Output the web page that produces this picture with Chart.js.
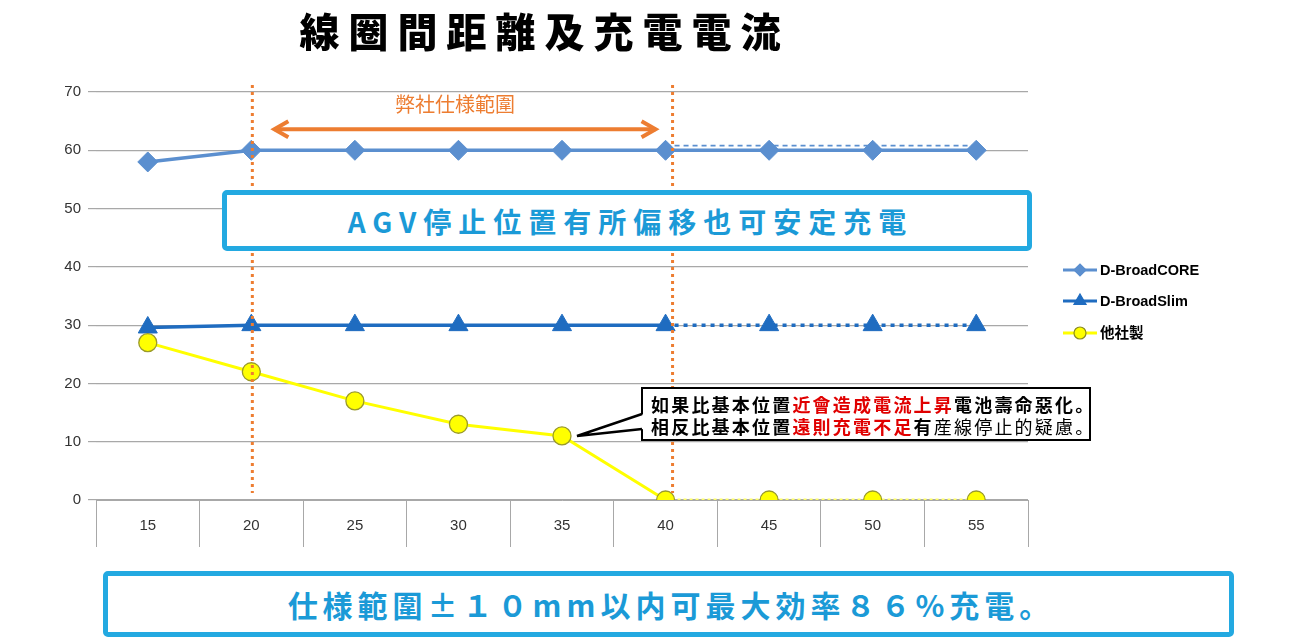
<!DOCTYPE html>
<html><head><meta charset="utf-8">
<script src="https://cdn.jsdelivr.net/npm/chart.js@4.4.1/dist/chart.umd.min.js"></script>
<style>
body{margin:0;background:#fff;width:1291px;height:641px;overflow:hidden;position:relative;font-family:"Noto Sans CJK JP","Noto Sans CJK TC",sans-serif;}
#c{position:absolute;left:0;top:0;}
.ov{position:absolute;box-sizing:border-box;}
#title{left:0;top:4px;width:1089px;text-align:center;font-size:40px;font-weight:900;letter-spacing:9px;color:#000;line-height:52px;}
.box{border:5px solid #23a9e1;border-radius:5px;background:#fff;color:#1b9ad7;font-weight:700;text-align:center;display:flex;align-items:center;justify-content:center;white-space:nowrap;}
#box1{left:222px;top:190px;width:810px;height:61px;font-size:28px;letter-spacing:7px;padding-left:7px;}
#box2{left:103px;top:571px;width:1131px;height:66px;font-size:30px;letter-spacing:5px;padding-left:5px;}
#callout{left:641px;top:387px;width:450px;height:54px;border:2px solid #000;background:#fff;font-size:18px;font-weight:700;letter-spacing:2.2px;line-height:22px;padding:4px 0 0 8px;color:#000;white-space:nowrap;}
#ptr{position:absolute;left:0;top:0;}
.r{color:#e00000}
.n{font-weight:400}
</style></head>
<body>
<canvas id="c" width="1291" height="641"></canvas>
<div class="ov" id="title">線圈間距離及充電電流</div>
<div class="ov box" id="box1">AGV停止位置有所偏移也可安定充電</div>
<div class="ov box" id="box2">仕様範圍±１０mm以内可最大効率８６%充電。</div>
<div class="ov" id="callout">如果比基本位置<span class="r">近會造成電流上昇</span>電池壽命惡化。<br>相反比基本位置<span class="r">遠則充電不足</span>有<span class="n">産線停止的疑慮。</span></div>
<svg id="ptr" width="1291" height="641"><polygon points="644,414 577,436 644,429" fill="#fff" stroke="none"/><polyline points="642,414 577,436 642,429" fill="none" stroke="#000" stroke-width="2.5"/></svg>
<script>
const categories = ['15','20','25','30','35','40','45','50','55'];
const coreValues  = [58, 60, 60, 60, 60, 60, 60, 60, 60];
const coreGuide   = [null, null, null, null, null, 60.8, 60.8, 60.8, 60.8];
const slimValues  = [29.6, 30, 30, 30, 30, 30, 30, 30, 30];
const otherValues = [27, 22, 17, 13, 11, 0, 0, 0, 0];
const seriesNames = ['D-BroadCORE', 'D-BroadSlim', '他社製'];
const specRange = ['20', '40'];
const specLabel = '弊社仕様範圍';
const yMin = 0, yMax = 70, yStep = 10;

const CORE = '#5b8fcf', SLIM = '#1f6cc0', OTHER = '#ffff00', ORANGE = '#ed7d31', GRID = '#a8a8a8';
const dashAfter = (idx, dash) => ctx => ctx.p0DataIndex >= idx ? dash : undefined;

const annot = {
  id: 'annot',
  afterDatasetsDraw(chart) {
    const {ctx, chartArea, scales: {x, y}} = chart;
    ctx.save();
    ctx.strokeStyle = ORANGE; ctx.lineWidth = 3; ctx.setLineDash([3, 4]);
    const xs = [x.getPixelForValue(categories.indexOf(specRange[0])) + 1,
                x.getPixelForValue(categories.indexOf(specRange[1])) + 7];
    xs.forEach(px => { ctx.beginPath(); ctx.moveTo(px, chartArea.top - 7); ctx.lineTo(px, chartArea.bottom - 7); ctx.stroke(); });
    ctx.setLineDash([]); ctx.lineWidth = 4;
    const ay = y.getPixelForValue(63.6);
    const a0 = xs[0] + 22, a1 = xs[1] - 17;
    ctx.beginPath(); ctx.moveTo(a0, ay); ctx.lineTo(a1, ay); ctx.stroke();
    ctx.beginPath(); ctx.moveTo(a0 + 14, ay - 8); ctx.lineTo(a0, ay); ctx.lineTo(a0 + 14, ay + 8); ctx.stroke();
    ctx.beginPath(); ctx.moveTo(a1 - 14, ay - 8); ctx.lineTo(a1, ay); ctx.lineTo(a1 - 14, ay + 8); ctx.stroke();
    ctx.fillStyle = ORANGE; ctx.font = '20px "Noto Sans CJK JP"'; ctx.textAlign = 'center'; ctx.textBaseline = 'middle';
    ctx.fillText(specLabel, (a0 + a1) / 2 - 10, y.getPixelForValue(67.8));

    // legend
    const lx = chartArea.right + 35;
    const rows = [
      {name: seriesNames[0], color: CORE, style: 'rectRot', r: 6, fill: CORE, border: CORE, y: 270},
      {name: seriesNames[1], color: SLIM, style: 'triangle', r: 7, fill: SLIM, border: SLIM, y: 301},
      {name: seriesNames[2], color: OTHER, style: 'circle', r: 6, fill: OTHER, border: '#8a8a20', y: 333}
    ];
    rows.forEach(rw => {
      ctx.strokeStyle = rw.color; ctx.lineWidth = 3;
      ctx.beginPath(); ctx.moveTo(lx, rw.y); ctx.lineTo(lx + 34, rw.y); ctx.stroke();
      ctx.fillStyle = rw.fill; ctx.strokeStyle = rw.border; ctx.lineWidth = 1.2;
      Chart.helpers.drawPoint(ctx, {pointStyle: rw.style, radius: rw.r, rotation: 0, borderWidth: 1.2}, lx + 17, rw.y);
      ctx.fillStyle = '#000'; ctx.textAlign = 'left'; ctx.textBaseline = 'middle';
      ctx.font = 'bold 14.5px "Liberation Sans", "Noto Sans CJK JP"';
      ctx.fillText(rw.name, lx + 37, rw.y + 1);
    });
    ctx.restore();
  }
};

new Chart(document.getElementById('c'), {
  type: 'line',
  data: {
    labels: categories,
    datasets: [
      {label: seriesNames[0], data: coreValues, borderColor: CORE, backgroundColor: CORE, borderWidth: 3.5,
       pointStyle: 'rectRot', pointRadius: 10, pointBorderWidth: 1, order: 3},
      {label: 'guide', data: coreGuide, borderColor: CORE, borderWidth: 1.8, borderDash: [5, 4], pointRadius: 0, order: 4},
      {label: seriesNames[1], data: slimValues, borderColor: SLIM, backgroundColor: SLIM, borderWidth: 3.5,
       pointStyle: 'triangle', pointRadius: 11, pointBorderWidth: 1, order: 2,
       segment: {borderDash: dashAfter(5, [4, 5])}},
      {label: seriesNames[2], data: otherValues, borderColor: OTHER, backgroundColor: OTHER, borderWidth: 3,
       pointStyle: 'circle', pointRadius: 9, pointBorderColor: '#9a9a2a', pointBorderWidth: 1.3, order: 1,
       segment: {borderDash: dashAfter(5, [3, 3]), borderColor: ctx => ctx.p0DataIndex >= 5 ? '#ffff66' : undefined}}
    ]
  },
  options: {
    responsive: false, animation: false,
    layout: {padding: {top: 92, right: 263, bottom: 0, left: 0}},
    plugins: {legend: {display: false}, tooltip: {enabled: false}},
    scales: {
      x: {
        offset: true,
        grid: {offset: true, drawOnChartArea: false, tickLength: 47, color: GRID, lineWidth: 1},
        border: {display: true, color: GRID},
        ticks: {padding: -30, color: '#333', font: {family: '"Liberation Sans", Arial', size: 15}},
        afterFit: s => { s.height = 141; }
      },
      y: {
        min: yMin, max: yMax,
        grid: {color: GRID, lineWidth: 1.2, tickLength: 8},
        border: {display: false},
        ticks: {stepSize: yStep, padding: 7, color: '#333', font: {family: '"Liberation Sans", Arial', size: 15}},
        afterFit: s => { s.width = 96; }
      }
    }
  },
  plugins: [annot]
});
</script>
</body></html>
